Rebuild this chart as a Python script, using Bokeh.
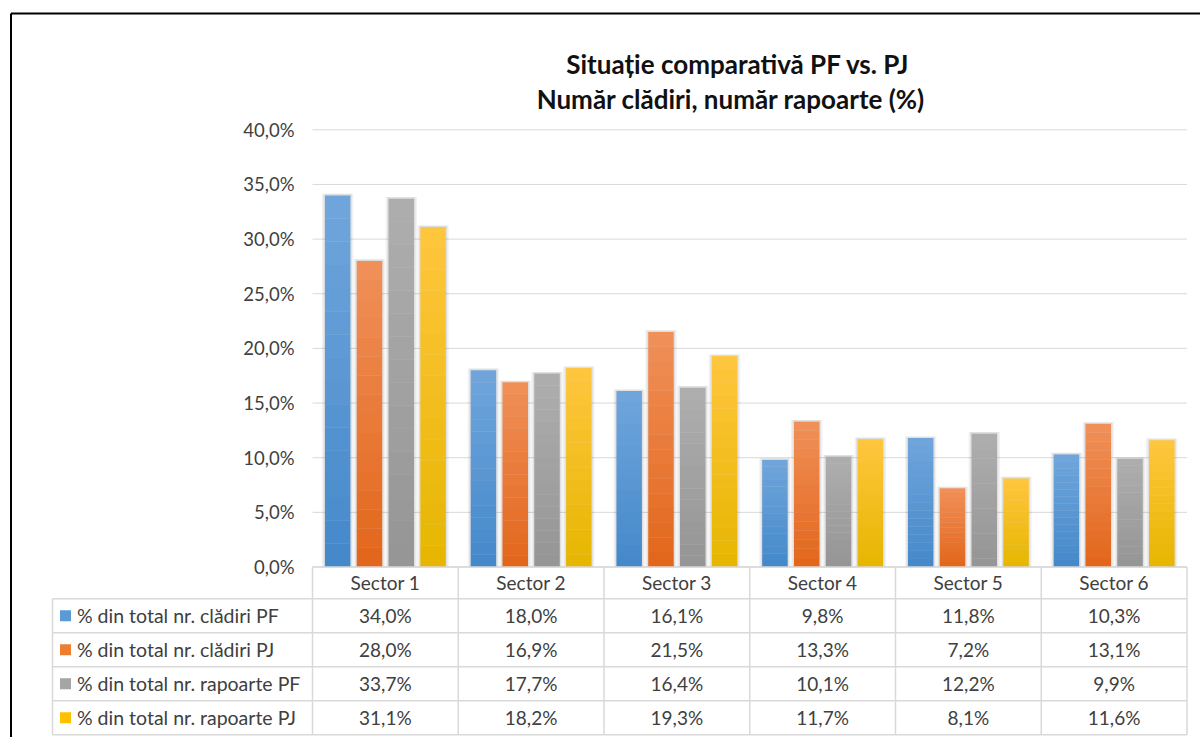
from bokeh.plotting import figure
from bokeh.models import Range1d
from bokeh.core.properties import value
from bokeh.embed import file_html
from bokeh.resources import INLINE

# ---------------- data ----------------
categories = ["Sector 1", "Sector 2", "Sector 3", "Sector 4", "Sector 5", "Sector 6"]
series_names = [
    "% din total nr. clădiri PF",
    "% din total nr. clădiri PJ",
    "% din total nr. rapoarte PF",
    "% din total nr. rapoarte PJ",
]
cladiri_pf = [34.0, 18.0, 16.1, 9.8, 11.8, 10.3]
cladiri_pj = [28.0, 16.9, 21.5, 13.3, 7.2, 13.1]
rapoarte_pf = [33.7, 17.7, 16.4, 10.1, 12.2, 9.9]
rapoarte_pj = [31.1, 18.2, 19.3, 11.7, 8.1, 11.6]
y_ticks = [0, 5, 10, 15, 20, 25, 30, 35, 40]
title_lines = ["Situație comparativă PF vs. PJ", "Număr clădiri, număr rapoarte (%)"]

series = [cladiri_pf, cladiri_pj, rapoarte_pf, rapoarte_pj]
colors = ["#5B9BD5", "#ED7D31", "#A5A5A5", "#FFC000"]
# gradient ends (top, bottom) for each series
grad_top = ["#70A6DC", "#F0905A", "#AEAEAE", "#FFC63F"]
grad_bot = ["#4488CA", "#E2661A", "#959595", "#E6B600"]

# ---------------- layout helpers ----------------
W, H = 1200, 737
PAGE_OX, PAGE_OY = 0, 0           # page offset of canvas
AX_X0 = 312.0                     # page x of category axis start
PX_X = (1186.5 - 312.0) / 6.0     # px per category
AX_Y0 = 566.5                     # page y of 0 %
PX_Y = (566.5 - 129.3) / 40.0     # px per percent


def dx(page_x):
    return (page_x - AX_X0) / PX_X


def dy(page_y):
    return (AX_Y0 - page_y) / PX_Y


def hex2rgb(h):
    return tuple(int(h[i:i + 2], 16) for i in (1, 3, 5))


def lerp(c0, c1, t):
    a, b = hex2rgb(c0), hex2rgb(c1)
    return "#%02x%02x%02x" % tuple(round(a[i] + (b[i] - a[i]) * t) for i in range(3))


FONT = value("Lato")
TXT = "#404040"
GRID = "#D9D9D9"

p = figure(
    width=W, height=H,
    x_range=Range1d(dx(PAGE_OX), dx(PAGE_OX + W)),
    y_range=Range1d(dy(PAGE_OY + H), dy(PAGE_OY)),
    x_axis_type=None, y_axis_type=None,
    toolbar_location=None, output_backend="svg",
    min_border=0, outline_line_color=None,
)
p.background_fill_color = "white"
p.border_fill_color = "white"

# chart border (left + top visible)
p.segment(x0=[dx(10.5), dx(10.5)], y0=[dy(13), dy(13)],
          x1=[dx(10.5), dx(1300)], y1=[dy(800), dy(13)],
          line_color="black", line_width=2)

# gridlines
n = len(categories)
p.segment(x0=[0] * len(y_ticks), x1=[n] * len(y_ticks), y0=y_ticks, y1=y_ticks,
          line_color=GRID, line_width=1)

# y tick labels
p.text(x=[dx(294)] * len(y_ticks), y=y_ticks,
       text=[f"{t:.1f}".replace(".", ",") + "%" for t in y_ticks],
       text_font=FONT, text_font_size="18.5px", text_color=TXT,
       text_align="right", text_baseline="middle")

# bars (with soft halo and vertical gradient)
bar_w = 25.5 / PX_X
step = 31.8 / PX_X
NB = 16
for k, (vals, col) in enumerate(zip(series, colors)):
    xs = [i + 0.5 + (k - 1.5) * step for i in range(n)]
    for extra, alpha in ((6.0, 0.05), (3.0, 0.07)):
        p.vbar(x=xs, top=[v + 0.15 for v in vals], bottom=0,
               width=bar_w + extra / PX_X, fill_color="#000000",
               fill_alpha=alpha, line_color=None)
    bx, bb, bt, bc = [], [], [], []
    for x, v in zip(xs, vals):
        for j in range(NB):
            bx.append(x)
            bb.append(v * j / NB)
            bt.append(min(v, v * (j + 1) / NB + 0.03))
            bc.append(lerp(grad_bot[k], grad_top[k], (j + 0.5) / NB))
    p.vbar(x=bx, bottom=bb, top=bt, width=bar_w, fill_color=bc, line_color=None)

# ---------------- data table ----------------
hdr_top = 0
hdr_bot = dy(598.3)
row_h = 34.0
row_bounds = [dy(598.3 + r * row_h) for r in range(5)]
leg_left = dx(52)

# horizontal lines
p.segment(x0=[0], x1=[n], y0=[hdr_top], y1=[hdr_top], line_color=GRID, line_width=1.5)
p.segment(x0=[leg_left] * 5, x1=[n] * 5, y0=row_bounds, y1=row_bounds,
          line_color=GRID, line_width=1.5)
# vertical lines
p.segment(x0=list(range(n + 1)), x1=list(range(n + 1)),
          y0=[hdr_top] * (n + 1), y1=[row_bounds[-1]] * (n + 1),
          line_color=GRID, line_width=1.5)
p.segment(x0=[leg_left], x1=[leg_left], y0=[hdr_bot], y1=[row_bounds[-1]],
          line_color=GRID, line_width=1.5)

# header
p.text(x=[i + 0.5 for i in range(n)], y=[(hdr_top + hdr_bot) / 2] * n, text=categories,
       text_font=FONT, text_font_size="19px", text_color=TXT,
       text_align="center", text_baseline="middle")

row_centers = [(row_bounds[r] + row_bounds[r + 1]) / 2 for r in range(4)]
for r, (vals, col, name) in enumerate(zip(series, colors, series_names)):
    yc = row_centers[r]
    p.text(x=[i + 0.5 for i in range(n)], y=[yc] * n,
           text=[f"{v:.1f}".replace(".", ",") + "%" for v in vals],
           text_font=FONT, text_font_size="19px", text_color=TXT,
           text_align="center", text_baseline="middle")
    p.scatter(x=[dx(65)], y=[yc], marker="square", size=11,
              fill_color=col, line_color=None)
    p.text(x=[dx(76.5)], y=[yc], text=[name],
           text_font=FONT, text_font_size="19.5px", text_color=TXT,
           text_align="left", text_baseline="middle")

# title
p.text(x=[dx(737.5), dx(730.5)], y=[dy(63), dy(98)], text=title_lines,
       text_font=FONT, text_font_size="26px", text_font_style="bold",
       text_color="#111111", text_align="center", text_baseline="middle")

open("out.html", "w").write(file_html(p, INLINE))
